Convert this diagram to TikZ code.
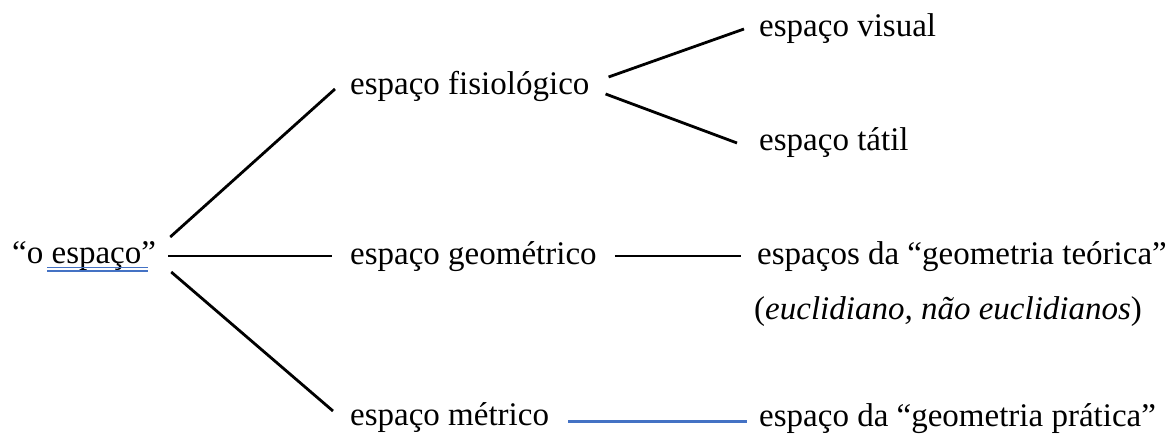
\documentclass[tikz,border=0pt]{standalone}
\usepackage{fontspec}
\setmainfont{Liberation Serif}
\usetikzlibrary{calc}
\definecolor{wordblue}{RGB}{68,114,196}
\tikzset{
  font=\fontsize{33}{40}\selectfont,
  term/.style={anchor=base west, inner sep=0pt},
  link/.style={draw=black, line width=2.8pt},
  bluelink/.style={draw=wordblue, line width=3pt},
  squiggle/.style={draw=wordblue, line width=1.1pt},
}
\begin{document}
\begin{tikzpicture}[x=1pt,y=-1pt]
\useasboundingbox (0,0) rectangle (1175,435);
% terms
\node[term] (root) at (12,264) {``o espaço''};
\node[term] (fis) at (350,95) {espaço fisiológico};
\node[term] (geo) at (350,265) {espaço geométrico};
\node[term] (met) at (350,425) {espaço métrico};
\node[term] (vis) at (759,37) {espaço visual};
\node[term] (tat) at (759,151) {espaço tátil};
\node[term] (teo) at (757,265) {espaços da ``geometria teórica''};
\node[term] (euc) at (754,320) {(\textit{euclidiano, não euclidianos})};
\node[term] (pra) at (759,426) {espaço da ``geometria prática''};
% double underline under espaço
\coordinate (ul1) at (47,267.5);
\coordinate (ul2) at (148,267.5);
\draw[squiggle] (ul1) -- (ul2);
\draw[squiggle] ([yshift=-3.5]ul1) -- ([yshift=-3.5]ul2);
% branches from root
\draw[link] ($(root.base east)+(14,-27)$) -- ($(fis.base west)+(-15,-6)$);
\draw[link] ($(root.base east)+(12,-8)$) -- ($(geo.base west)+(-18,-9)$);
\draw[link] ($(root.base east)+(15,8)$) -- ($(met.base west)+(-17,-14)$);
% branches from fisiologico
\draw[link] ($(fis.base east)+(19,-18)$) -- ($(vis.base west)+(-15,-8)$);
\draw[link] ($(fis.base east)+(16,-1)$) -- ($(tat.base west)+(-22,-8)$);
% geometrico and metrico
\draw[link] ($(geo.base east)+(18,-9)$) -- ($(teo.base west)+(-16,-9)$);
\draw[bluelink] ($(met.base east)+(19,-4)$) -- ($(pra.base west)+(-12,-5)$);
\end{tikzpicture}
\end{document}
